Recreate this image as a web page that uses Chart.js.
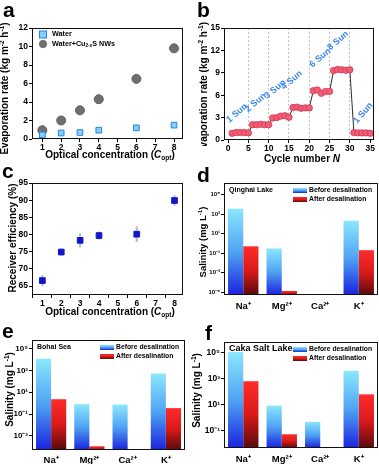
<!DOCTYPE html>
<html>
<head>
<meta charset="utf-8">
<script src="https://cdn.jsdelivr.net/npm/chart.js@4.4.1/dist/chart.umd.min.js"></script>
<style>
  body { margin: 0; background: #fff; }
  #fig { position: relative; width: 379px; height: 464px; overflow: hidden; background: #fff; }
  .panel { position: absolute; }
  .tag { position: absolute; font: bold 21px "Liberation Sans", Arial, sans-serif; line-height: 21px; color: #000; }
</style>
</head>
<body>
<div id="fig">
  <div class="panel" style="left:0;top:0;width:188px;height:165px"><canvas id="chartA"></canvas></div>
  <div class="panel" style="left:188px;top:0;width:191px;height:170px"><canvas id="chartB"></canvas></div>
  <div class="panel" style="left:0;top:165px;width:188px;height:158px"><canvas id="chartC"></canvas></div>
  <div class="panel" style="left:188px;top:165px;width:191px;height:148px"><canvas id="chartD"></canvas></div>
  <div class="panel" style="left:0;top:320px;width:188px;height:144px"><canvas id="chartE"></canvas></div>
  <div class="panel" style="left:188px;top:320px;width:191px;height:144px"><canvas id="chartF"></canvas></div>
  <div class="tag" style="left:3px;top:-1px">a</div>
  <div class="tag" style="left:197px;top:-1px">b</div>
  <div class="tag" style="left:2px;top:160px">c</div>
  <div class="tag" style="left:197px;top:164px">d</div>
  <div class="tag" style="left:2px;top:320px">e</div>
  <div class="tag" style="left:205px;top:322px">f</div>
</div>
<script>
// ---------- data ----------
// a: evaporation rate vs optical concentration
const optConc = [1, 2, 3, 4, 6, 8];
const rateWater = [0.45, 0.65, 0.7, 0.95, 1.2, 1.5];
const rateNWs = [0.95, 2.0, 3.1, 4.3, 6.5, 9.8];
const optTicks = [1, 2, 3, 4, 5, 6, 7, 8];
const rateTicksA = [0, 2, 4, 6, 8, 10, 12];

// b: cycling under different suns
const cycleNo = [1, 2, 3, 4, 5, 6, 7, 8, 9, 10, 11, 12, 13, 14, 15, 16, 17, 18,
  19, 20, 21, 22, 23, 24, 25, 26, 27, 28, 29, 30, 31, 32, 33, 34, 35];
const cycleRate = [0.9, 1.0, 1.0, 1.0, 0.95, 2.05, 2.05, 2.1, 2.05, 2.05,
  2.95, 3.0, 3.2, 3.25, 3.05, 4.35, 4.4, 4.25, 4.3, 4.3,
  6.6, 6.7, 6.25, 6.5, 6.5, 9.3, 9.45, 9.4, 9.35, 9.4,
  1.0, 0.95, 0.95, 0.95, 0.9];
const cycleTicks = [0, 5, 10, 15, 20, 25, 30, 35];
const rateTicksB = [0, 3, 6, 9, 12, 15];
const sunText = ["1 Sun", "2 Sun", "3 Sun", "4 Sun", "6 Sun", "8 Sun", "1 Sun"];
const sunAtCycle = [2.2, 6.8, 11.6, 15.7, 22.7, 27.1, 33.3];
const sunAtRate = [3.6, 5.0, 6.8, 8.0, 11.0, 13.3, 3.6];

// c: receiver efficiency
const effMean = [66.6, 74.9, 78.3, 79.7, 80.1, 89.9];
const effErr = [1.5, 1.0, 2.0, 1.1, 2.2, 1.4];
const effTicks = [65, 70, 75, 80, 85, 90, 95];

// d-f: salinity before / after
const ions = ["Na⁺", "Mg²⁺", "Ca²⁺", "K⁺"];
const qinghaiBefore = [3600, 0.3, null, 210];
const qinghaiAfter = [0.5, 1.3e-5, null, 0.2];
const bohaiBefore = [12000, 0.8, 0.75, 530];
const bohaiAfter = [2.3, 1.1e-4, 5.5e-5, 0.35];
const cakaBefore = [110000, 8.7, 0.5, 4000];
const cakaAfter = [630, 0.056, 0.0058, 63];
const salTicksD = [1e-5, 1e-3, 1e-1, 1e1, 1e3, 1e5];
const salTicksE = [1e-3, 1e-1, 1e1, 1e3, 1e5];
const salTicksF = [1e-1, 1e1, 1e3, 1e5];

// ---------- helpers ----------
const FONT = '"Liberation Sans", Arial, Helvetica, sans-serif';
Chart.defaults.font.family = FONT;
Chart.defaults.font.weight = "bold";
Chart.defaults.color = "#000";
Chart.defaults.plugins.legend.display = false;
Chart.defaults.plugins.tooltip.enabled = false;

const BEFORE = ["#8be7fd", "#4fa3f3", "#1a22de"];
const AFTER = ["#ff2b2b", "#d91a1a", "#580a0a"];

function richText(ctx, parts, x, y, size, rot, align) {
  const fontFor = (st) => (st === "i" ? "italic " : "") + "bold " +
    (st === "sub" || st === "sup" ? size * 0.65 : size) + "px " + FONT;
  ctx.save();
  ctx.translate(x, y);
  ctx.rotate(rot || 0);
  ctx.textAlign = "left";
  ctx.textBaseline = "middle";
  ctx.fillStyle = "#000";
  let w = 0;
  parts.forEach(([t, st]) => { ctx.font = fontFor(st); w += ctx.measureText(t).width; });
  let cx = align === "left" ? 0 : -w / 2;
  parts.forEach(([t, st]) => {
    ctx.font = fontFor(st);
    const dy = st === "sub" ? size * 0.3 : st === "sup" ? -size * 0.32 : 0;
    ctx.fillText(t, cx, dy);
    cx += ctx.measureText(t).width;
  });
  ctx.restore();
}

function titles(items) {
  return {
    id: "titles",
    afterDraw(chart) {
      const ctx = chart.ctx;
      items.forEach((it) => {
        ctx.save();
        if (it.clip) { ctx.beginPath(); ctx.rect(...it.clip); ctx.clip(); }
        richText(ctx, it.parts, it.x, it.y, it.size || 10, it.rot || 0);
        ctx.restore();
      });
    }
  };
}

const frame = {
  id: "frame",
  afterDatasetsDraw(chart) {
    const a = chart.chartArea, ctx = chart.ctx;
    ctx.save();
    ctx.strokeStyle = "#111";
    ctx.lineWidth = 1;
    ctx.strokeRect(Math.round(a.left) + 0.5, Math.round(a.top) + 0.5,
      Math.round(a.right - a.left) - 1, Math.round(a.bottom - a.top) - 1);
    ctx.restore();
  }
};

const fixW = (w) => (s) => { s.width = w; };
const fixH = (h) => (s) => { s.height = h; };
const setTicks = (vals) => (s) => { s.ticks = vals.map((v) => ({ value: v })); };

function linAxis(min, max, ticks, fit, size, extra) {
  return Object.assign({
    type: "linear", min: min, max: max,
    afterBuildTicks: setTicks(ticks), afterFit: fit,
    grid: { drawOnChartArea: false, tickLength: 3, tickColor: "#000", tickWidth: 1 },
    border: { display: false },
    ticks: { color: "#000", font: { size: size, weight: "bold" }, padding: 1, autoSkip: false, maxRotation: 0 }
  }, extra || {});
}

const yTitleEvap = [["Evaporation rate (kg m", ""], ["-2", "sup"], [" h", ""], ["-1", "sup"], [")", ""]];
const xTitleOpt = [["Optical concentration (", ""], ["C", "i"], ["opt", "sub"], [")", ""]];
const yTitleSal = [["Salinity (mg L", ""], ["-1", "sup"], [")", ""]];

const baseOpts = { responsive: true, maintainAspectRatio: false, animation: false, devicePixelRatio: 1 };

// ---------- a ----------
const legendA = {
  id: "legendA",
  afterDatasetsDraw(chart) {
    const a = chart.chartArea, ctx = chart.ctx;
    ctx.save();
    ctx.fillStyle = "#86cff7"; ctx.strokeStyle = "#1e86e6"; ctx.lineWidth = 1;
    ctx.fillRect(a.left + 7.5, a.top + 3, 7, 7);
    ctx.strokeRect(a.left + 7.5, a.top + 3, 7, 7);
    ctx.fillStyle = "#6f6f6f";
    ctx.beginPath(); ctx.arc(a.left + 11, a.top + 16, 4, 0, Math.PI * 2); ctx.fill();
    ctx.restore();
    richText(ctx, [["Water", ""]], a.left + 20, a.top + 6.5, 7.2, 0, "left");
    richText(ctx, [["Water+Cu", ""], ["2-x", "sub"], ["S NWs", ""]], a.left + 20, a.top + 16, 7.2, 0, "left");
  }
};

new Chart(document.getElementById("chartA"), {
  type: "scatter",
  data: {
    datasets: [
      {
        label: "Water",
        data: optConc.map((x, i) => ({ x: x, y: rateWater[i] })),
        pointStyle: "rect", pointRadius: 4,
        backgroundColor: "#86cff7", borderColor: "#1e86e6", borderWidth: 1
      },
      {
        label: "Water+Cu2-xS NWs",
        data: optConc.map((x, i) => ({ x: x, y: rateNWs[i] })),
        pointStyle: "circle", pointRadius: 4.5,
        backgroundColor: "#6f6f6f", borderColor: "#5f5f5f", borderWidth: 1
      }
    ]
  },
  options: Object.assign({}, baseOpts, {
    layout: { padding: { top: 28, right: 3, left: 0, bottom: 0 } },
    scales: {
      x: linAxis(0.45, 8.45, optTicks, fixH(26), 8.5),
      y: linAxis(0, 12, rateTicksA, fixW(32), 8.5)
    }
  }),
  plugins: [frame, legendA, titles([
    { parts: yTitleEvap, x: 5, y: 88.5, rot: -Math.PI / 2 },
    { parts: xTitleOpt, x: 110, y: 155.5 }
  ])]
});

// ---------- b ----------
const sunLabels = {
  id: "sunLabels",
  afterDatasetsDraw(chart) {
    const { ctx, scales: { x, y } } = chart;
    ctx.save();
    ctx.fillStyle = "#3a86ee";
    ctx.font = "bold 9px " + FONT;
    ctx.textAlign = "center";
    ctx.textBaseline = "middle";
    sunText.forEach((t, i) => {
      ctx.save();
      ctx.translate(x.getPixelForValue(sunAtCycle[i]), y.getPixelForValue(sunAtRate[i]));
      ctx.rotate((i === sunText.length - 1 ? -50 : -40) * Math.PI / 180);
      ctx.fillText(t, 0, 0);
      ctx.restore();
    });
    ctx.restore();
  }
};

new Chart(document.getElementById("chartB"), {
  type: "scatter",
  data: {
    datasets: [{
      label: "Evaporation rate",
      data: cycleNo.map((x, i) => ({ x: x, y: cycleRate[i] })),
      showLine: true,
      borderColor: "#2b2b2b", borderWidth: 1,
      pointRadius: 3.2, pointBackgroundColor: "#f25c74", pointBorderColor: "#cf3a55", pointBorderWidth: 0.8
    }]
  },
  options: Object.assign({}, baseOpts, {
    layout: { padding: { top: 28, right: 1, left: 0, bottom: 0 } },
    scales: {
      x: linAxis(-1, 36, cycleTicks, fixH(30), 8.5, {
        grid: {
          drawOnChartArea: true, tickLength: 3, tickColor: "#000", tickWidth: 1, lineWidth: 1,
          color: (c) => (c.tick && c.tick.value > 0 && c.tick.value < 35) ? "#c2c2c2" : "rgba(0,0,0,0)",
          tickBorderDash: []
        },
        border: { display: false, dash: [2, 2] }
      }),
      y: linAxis(0, 15, rateTicksB, fixW(36), 8.5)
    }
  }),
  plugins: [frame, sunLabels, titles([
    { parts: yTitleEvap, x: 16, y: 88, rot: -Math.PI / 2, clip: [0, 0, 40, 146] },
    { parts: [["Cycle number ", ""], ["N", "i"]], x: 114, y: 159 }
  ])]
});

// ---------- c ----------
new Chart(document.getElementById("chartC"), {
  type: "scatter",
  data: {
    datasets: [
      {
        type: "bar",
        label: "error",
        data: optConc.map((x, i) => ({ x: x, y: [effMean[i] - effErr[i], effMean[i] + effErr[i]] })),
        backgroundColor: "#b7bfd8",
        barThickness: 1.5,
        order: 2
      },
      {
        label: "Receiver efficiency",
        data: optConc.map((x, i) => ({ x: x, y: effMean[i] })),
        pointStyle: "rect", pointRadius: 4,
        backgroundColor: "#1414c8", borderColor: "#1414c8", borderWidth: 1,
        order: 1
      }
    ]
  },
  options: Object.assign({}, baseOpts, {
    layout: { padding: { top: 18, right: 3, left: 0, bottom: 0 } },
    scales: {
      x: linAxis(0.45, 8.45, optTicks, fixH(28), 8.5, { offset: false }),
      y: linAxis(62.4, 95, effTicks, fixW(32), 8.5)
    }
  }),
  plugins: [frame, titles([
    { parts: [["Receiver efficiency (%)", ""]], x: 13, y: 73, rot: -Math.PI / 2 },
    { parts: xTitleOpt, x: 110, y: 147 }
  ])]
});

// ---------- d, e, f ----------
function barGrad(stops) {
  return function (c) {
    const chart = c.chart;
    if (c.type !== "data" || !chart.chartArea || c.raw == null) return stops[0];
    const y0 = chart.scales.y.getPixelForValue(c.raw);
    const g = chart.ctx.createLinearGradient(0, y0, 0, chart.chartArea.bottom);
    g.addColorStop(0, stops[0]);
    g.addColorStop(0.5, stops[1]);
    g.addColorStop(1, stops[2]);
    return g;
  };
}

const supMap = { "-": "⁻", "0": "⁰", "1": "¹", "2": "²", "3": "³", "4": "⁴", "5": "⁵", "6": "⁶", "7": "⁷", "8": "⁸", "9": "⁹" };
const powLabel = (v) => "10" + String(Math.round(Math.log10(v))).split("").map((ch) => supMap[ch]).join("");

function lakePlugin(name, nameSize) {
  return {
    id: "lake",
    afterDatasetsDraw(chart) {
      const a = chart.chartArea, ctx = chart.ctx;
      richText(ctx, [[name, ""]], a.left + 5, a.top + 7, nameSize, 0, "left");
      [BEFORE, AFTER].forEach((stops, i) => {
        const bx = a.right - 85, by = a.top + 5 + i * 9;
        const g = ctx.createLinearGradient(0, by, 0, by + 5);
        g.addColorStop(0, stops[0]); g.addColorStop(0.5, stops[1]); g.addColorStop(1, stops[2]);
        ctx.save(); ctx.fillStyle = g; ctx.fillRect(bx, by, 14, 5); ctx.restore();
        richText(ctx, [[chart.data.datasets[i].label, ""]], bx + 16, by + 2.5, 6.8, 0, "left");
      });
    }
  };
}

function saltChart(id, before, after, min, max, ticks, opt) {
  new Chart(document.getElementById(id), {
    type: "bar",
    data: {
      labels: ions,
      datasets: [
        { label: "Before desalination", data: before, backgroundColor: barGrad(BEFORE), categoryPercentage: 0.79, barPercentage: 1 },
        { label: "After desalination", data: after, backgroundColor: barGrad(AFTER), categoryPercentage: 0.79, barPercentage: 1 }
      ]
    },
    options: Object.assign({}, baseOpts, {
      layout: { padding: { top: opt.top, right: opt.right, left: 0, bottom: 0 } },
      scales: {
        x: {
          afterFit: fixH(opt.xh),
          grid: { display: false }, border: { display: false },
          ticks: { color: "#000", font: { size: 9.5, weight: "bold" }, padding: opt.xpad, maxRotation: 0 }
        },
        y: {
          type: "logarithmic", min: min, max: max,
          afterBuildTicks: setTicks(ticks), afterFit: fixW(opt.yw),
          grid: { drawOnChartArea: false, tickLength: 3, tickColor: "#000", tickWidth: 1 },
          border: { display: false },
          ticks: { color: "#000", font: { size: opt.tick, weight: "bold" }, padding: 1, autoSkip: false, callback: (v) => powLabel(v) }
        }
      }
    }),
    plugins: [frame, lakePlugin(opt.name, opt.nameSize), titles([
      { parts: yTitleSal, x: opt.tx, y: opt.ty, rot: -Math.PI / 2, size: opt.tsize }
    ])]
  });
}

saltChart("chartD", qinghaiBefore, qinghaiAfter, Math.pow(10, -5.3), Math.pow(10, 6.2), salTicksD,
  { top: 18, right: 1, xh: 18, xpad: -2, yw: 36, tick: 6, name: "Qinghai Lake", nameSize: 7, tx: 15.5, ty: 77, tsize: 9.5 });
saltChart("chartE", bohaiBefore, bohaiAfter, Math.pow(10, -4.3), Math.pow(10, 5.8), salTicksE,
  { top: 20, right: 3, xh: 14, xpad: -3, yw: 32, tick: 8, name: "Bohai Sea", nameSize: 7, tx: 10, ty: 69.5, tsize: 10 });
saltChart("chartF", cakaBefore, cakaAfter, Math.pow(10, -2.3), Math.pow(10, 5.8), salTicksF,
  { top: 22, right: 1, xh: 16, xpad: -2, yw: 36, tick: 8.5, name: "Caka Salt Lake", nameSize: 9, tx: 9, ty: 70.5, tsize: 10 });
</script>
</body>
</html>
